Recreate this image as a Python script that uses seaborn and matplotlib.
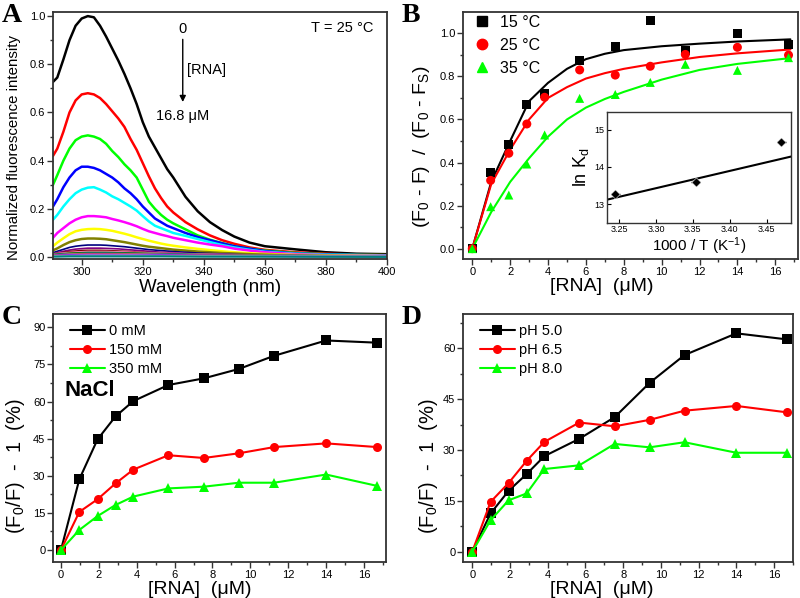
import numpy as np
import pandas as pd
import matplotlib
matplotlib.use("Agg")
import matplotlib.pyplot as plt
import seaborn as sns
from matplotlib.ticker import MultipleLocator, FormatStrFormatter
from matplotlib.lines import Line2D

# ---------------- data ----------------
# Panel A: normalized emission spectra during RNA titration (25 C)
wl = [290.6, 292, 294, 296, 298, 300, 302, 304, 306, 308, 310, 312, 314, 316, 318,
      320, 322, 324, 326, 328, 330, 334, 338, 342, 346, 350, 355, 360, 370, 380, 390, 400]
spec_black = [0.727, 0.745, 0.82, 0.90, 0.96, 0.99, 1.0, 0.995, 0.96, 0.915, 0.865, 0.815, 0.76, 0.70, 0.635,
              0.56, 0.50, 0.455, 0.41, 0.365, 0.33, 0.25, 0.19, 0.145, 0.112, 0.085, 0.06, 0.045, 0.032, 0.02, 0.014, 0.012]
spec_red = [0.42, 0.45, 0.52, 0.60, 0.65, 0.675, 0.68, 0.675, 0.66, 0.635, 0.605, 0.575, 0.54, 0.49, 0.445,
            0.39, 0.335, 0.285, 0.245, 0.21, 0.185, 0.145, 0.115, 0.09, 0.07, 0.055, 0.04, 0.03, 0.02, 0.014, 0.01, 0.008]
spec_green = [0.30, 0.34, 0.40, 0.45, 0.485, 0.50, 0.505, 0.50, 0.49, 0.47, 0.44, 0.415, 0.385, 0.36, 0.33,
              0.28, 0.23, 0.20, 0.175, 0.155, 0.14, 0.115, 0.09, 0.072, 0.058, 0.045, 0.035, 0.027, 0.017, 0.012, 0.01, 0.008]
spec_blue = [0.21, 0.24, 0.29, 0.33, 0.36, 0.375, 0.375, 0.37, 0.36, 0.345, 0.33, 0.31, 0.285, 0.265, 0.24,
             0.21, 0.185, 0.16, 0.145, 0.13, 0.12, 0.10, 0.083, 0.07, 0.057, 0.045, 0.035, 0.025, 0.015, 0.011, 0.009, 0.007]
spec_cyan = [0.155, 0.175, 0.21, 0.24, 0.265, 0.28, 0.288, 0.29, 0.28, 0.268, 0.252, 0.24, 0.225, 0.21, 0.193,
             0.17, 0.148, 0.13, 0.12, 0.11, 0.10, 0.088, 0.075, 0.062, 0.05, 0.04, 0.03, 0.022, 0.014, 0.01, 0.008, 0.006]
spec_magenta = [0.08, 0.10, 0.12, 0.14, 0.155, 0.165, 0.17, 0.17, 0.168, 0.165, 0.158, 0.152, 0.145, 0.137, 0.128,
                0.117, 0.107, 0.10, 0.093, 0.087, 0.08, 0.07, 0.06, 0.052, 0.045, 0.035, 0.027, 0.02, 0.012, 0.008, 0.006, 0.005]
spec_yellow = [0.045, 0.06, 0.078, 0.095, 0.107, 0.113, 0.116, 0.117, 0.116, 0.113, 0.109, 0.103, 0.097, 0.09, 0.082,
               0.075, 0.068, 0.062, 0.056, 0.051, 0.047, 0.04, 0.034, 0.029, 0.024, 0.02, 0.016, 0.013, 0.009, 0.007, 0.005, 0.004]
spec_olive = [0.028, 0.036, 0.05, 0.062, 0.07, 0.075, 0.077, 0.077, 0.076, 0.074, 0.07, 0.066, 0.062, 0.057, 0.052,
              0.047, 0.043, 0.04, 0.037, 0.034, 0.031, 0.027, 0.023, 0.02, 0.017, 0.015, 0.012, 0.01, 0.007, 0.005, 0.004, 0.003]
spec_navy = [0.018, 0.024, 0.032, 0.04, 0.045, 0.048, 0.05, 0.05, 0.05, 0.049, 0.047, 0.045, 0.043, 0.04, 0.037,
             0.034, 0.031, 0.029, 0.027, 0.025, 0.023, 0.02, 0.017, 0.015, 0.013, 0.011, 0.009, 0.008, 0.006, 0.005, 0.004, 0.003]
spec_purple = [0.014, 0.018, 0.024, 0.029, 0.033, 0.035, 0.037, 0.037, 0.037, 0.036, 0.035, 0.034, 0.032, 0.03, 0.028,
               0.026, 0.024, 0.022, 0.02, 0.019, 0.018, 0.015, 0.013, 0.011, 0.01, 0.009, 0.008, 0.007, 0.005, 0.004, 0.003, 0.003]
spec_wine = [0.012, 0.015, 0.019, 0.023, 0.025, 0.027, 0.028, 0.028, 0.028, 0.027, 0.026, 0.025, 0.024, 0.023, 0.021,
             0.02, 0.018, 0.017, 0.016, 0.015, 0.014, 0.012, 0.011, 0.01, 0.009, 0.008, 0.007, 0.006, 0.005, 0.004, 0.003, 0.002]
# weakest spectra read on a coarser wavelength grid
wl_small = [290.6, 296, 302, 308, 316, 326, 340, 360, 400]
spec_pink = [0.012, 0.018, 0.022, 0.022, 0.019, 0.015, 0.011, 0.007, 0.004]
spec_dkgreen = [0.010, 0.015, 0.018, 0.018, 0.016, 0.013, 0.009, 0.006, 0.003]
spec_royal = [0.008, 0.012, 0.014, 0.014, 0.013, 0.011, 0.008, 0.005, 0.003]
spec_orange = [0.007, 0.010, 0.012, 0.012, 0.011, 0.009, 0.007, 0.005, 0.002]
spec_violet = [0.006, 0.008, 0.010, 0.010, 0.009, 0.008, 0.006, 0.004, 0.002]
spec_ltgray = [0.004, 0.005, 0.006, 0.006, 0.006, 0.005, 0.004, 0.003, 0.002]
spec_dkcyan = [0.002, 0.003, 0.003, 0.003, 0.003, 0.003, 0.002, 0.002, 0.001]

# Titration points (uM RNA)
rna = [0, 0.97, 1.93, 2.88, 3.82, 5.67, 7.55, 9.4, 11.25, 14.0, 16.7]

# Panel B: fraction bound
b_15 = [0, 0.353, 0.485, 0.670, 0.721, 0.873, 0.941, 1.060, 0.922, 1.0, 0.947]
b_25 = [0, 0.317, 0.443, 0.579, 0.703, 0.830, 0.806, 0.847, 0.902, 0.935, 0.899]
b_35 = [0, 0.195, 0.249, 0.393, 0.528, 0.698, 0.716, 0.772, 0.856, 0.828, 0.887]
fit_x = [0, 1, 2, 3, 4, 5, 6, 7, 8, 10, 12, 14, 16.8]
fit_15 = [0, 0.31, 0.50, 0.685, 0.77, 0.835, 0.88, 0.905, 0.922, 0.94, 0.952, 0.962, 0.972]
fit_25 = [0, 0.30, 0.46, 0.60, 0.70, 0.75, 0.79, 0.815, 0.835, 0.865, 0.89, 0.907, 0.925]
fit_35 = [0, 0.17, 0.31, 0.42, 0.52, 0.60, 0.655, 0.695, 0.728, 0.785, 0.83, 0.858, 0.885]
b_labels = ["15 \u00b0C", "25 \u00b0C", "35 \u00b0C"]

# Inset: van't Hoff
vh_x = [3.245, 3.354, 3.470]
vh_y = [13.27, 13.59, 14.67]
vh_fit_x = [3.2337, 3.483]
vh_fit_y = [13.12, 14.28]

# Panel C: NaCl
c_0 = [0, 28.6, 44.7, 54.0, 60.2, 66.7, 69.4, 73.2, 78.5, 84.7, 83.8]
c_150 = [0, 15.4, 20.5, 26.9, 32.5, 38.3, 37.2, 39.1, 41.6, 43.1, 41.6]
c_350 = [0, 8.1, 13.7, 18.2, 21.6, 24.9, 25.6, 27.2, 27.2, 30.5, 25.9]
c_labels = ["0 mM", "150 mM", "350 mM"]

# Panel D: pH
d_50 = [0, 11.3, 18.0, 22.9, 28.2, 33.3, 39.7, 49.8, 58.0, 64.4, 62.6]
d_65 = [0, 14.7, 20.3, 26.8, 32.4, 38.1, 37.0, 38.9, 41.6, 43.0, 41.1]
d_80 = [0, 9.3, 15.2, 17.2, 24.4, 25.5, 31.8, 30.8, 32.3, 29.2, 29.2]
d_labels = ["pH 5.0", "pH 6.5", "pH 8.0"]

# ---------------- style ----------------
sns.set_theme(style="ticks")
plt.rcParams['font.family'] = ['Liberation Sans', 'DejaVu Sans']
plt.rcParams['mathtext.default'] = 'regular'
plt.rcParams['axes.linewidth'] = 1.3
plt.rcParams['axes.edgecolor'] = '#333333'
for k in ['text.color', 'axes.labelcolor', 'xtick.color', 'ytick.color']:
    plt.rcParams[k] = 'black'

GREEN = '#00ff00'
tri_cols = ['black', 'red', GREEN]
tri_marks = ['s', 'o', '^']

fig = plt.figure(figsize=(8, 5.98), dpi=100)
axA = fig.add_axes([53/800, 1-259/598, 334/800, 247/598])
axB = fig.add_axes([463/800, 1-259/598, 335/800, 247/598])
axI = fig.add_axes([607/800, 1-222.7/598, 184/800, 110.7/598])
axC = fig.add_axes([53/800, 1-562/598, 333/800, 248/598])
axD = fig.add_axes([463/800, 1-562/598, 330/800, 248/598])


def style_ax(ax, xmaj, xmin, ymaj, ymin, lab=8):
    ax.xaxis.set_major_locator(MultipleLocator(xmaj))
    ax.yaxis.set_major_locator(MultipleLocator(ymaj))
    if xmin:
        ax.xaxis.set_minor_locator(MultipleLocator(xmin))
    if ymin:
        ax.yaxis.set_minor_locator(MultipleLocator(ymin))
    ax.tick_params(which='major', direction='out', length=4, width=1, labelsize=lab, pad=1.5,
                   top=False, right=False, color='#333333')
    ax.tick_params(which='minor', direction='out', length=2.5, width=1,
                   top=False, right=False, color='#333333')
    for s in ax.spines.values():
        s.set_visible(True)


# ---------------- Panel A ----------------
main_specs = [(spec_black, 'black'), (spec_red, 'red'), (spec_green, GREEN), (spec_blue, '#0000ff'),
              (spec_cyan, '#00ffff'), (spec_magenta, '#ff00ff'), (spec_yellow, '#ffff00'),
              (spec_olive, '#808000'), (spec_navy, '#000080'), (spec_purple, '#800080'),
              (spec_wine, '#800000')]
for vals, col in main_specs:
    lw = 1.8 if max(vals) > 0.06 else 1.2
    sns.lineplot(x=wl, y=vals, color=col, lw=lw, ax=axA, estimator=None, sort=False)
small_specs = [(spec_pink, '#ff80c0'), (spec_dkgreen, '#008000'), (spec_royal, '#4169e1'),
               (spec_orange, '#ff8000'), (spec_violet, '#8000ff'), (spec_ltgray, '#c0c0c0'),
               (spec_dkcyan, '#008080')]
for vals, col in small_specs:
    sns.lineplot(x=wl_small, y=vals, color=col, lw=1.6, ax=axA, estimator=None, sort=False)
axA.set_xlim(290.6, 400)
axA.set_ylim(-0.008, 1.017)
style_ax(axA, 20, 10, 0.2, 0.1)
axA.yaxis.set_major_formatter(FormatStrFormatter('%.1f'))
axA.set_xlabel('Wavelength (nm)', fontsize=13.5)
axA.xaxis.set_label_coords(0.47, -0.08)
axA.set_ylabel('Normalized fluorescence intensity', fontsize=10.8)
axA.yaxis.set_label_coords(-0.095, 0.453)
axA.text(0.96, 0.935, 'T = 25 \u00b0C', transform=axA.transAxes, ha='right', va='center', fontsize=10.5)
axA.text(333.1, 0.945, '0', ha='center', va='center', fontsize=10.5)
axA.annotate('', xy=(333.1, 0.632), xytext=(333.1, 0.915),
             arrowprops=dict(arrowstyle='-|>', color='black', lw=1, mutation_scale=9))
axA.text(334.6, 0.776, '[RNA]', ha='left', va='center', fontsize=10.5)
axA.text(333.1, 0.586, '16.8 \u03bcM', ha='center', va='center', fontsize=10.5)

# ---------------- Panel B ----------------
dfB = pd.DataFrame({'rna': rna * 3, 'val': b_15 + b_25 + b_35,
                    'T': [b_labels[0]] * len(rna) + [b_labels[1]] * len(rna) + [b_labels[2]] * len(rna)})
dfFit = pd.DataFrame({'x': fit_x * 3, 'y': fit_15 + fit_25 + fit_35,
                      'T': [b_labels[0]] * len(fit_x) + [b_labels[1]] * len(fit_x) + [b_labels[2]] * len(fit_x)})
sns.lineplot(data=dfFit, x='x', y='y', hue='T', palette=tri_cols, lw=1.5, ax=axB,
             estimator=None, sort=False, legend=False)
sns.scatterplot(data=dfB, x='rna', y='val', hue='T', style='T', markers=tri_marks,
                palette=tri_cols, s=42, edgecolor='none', ax=axB, legend=False, zorder=3)
axB.set_xlim(-0.49, 17.2)
axB.set_ylim(-0.048, 1.099)
style_ax(axB, 2, 1, 0.2, 0.1)
axB.yaxis.set_major_formatter(FormatStrFormatter('%.1f'))
axB.set_xlabel('[RNA]  (\u03bcM)', fontsize=14)
axB.xaxis.set_label_coords(0.415, -0.075)
axB.set_ylabel('(F$_0$ - F)  /  (F$_0$ - F$_S$)', fontsize=14)
axB.yaxis.set_label_coords(-0.093, 0.455)
hB = [Line2D([], [], ls='none', marker=m, color=c, markersize=7.5) for m, c in zip(tri_marks, tri_cols)]
axB.legend(hB, b_labels, loc='upper left', bbox_to_anchor=(0.0, 1.035), frameon=False, fontsize=11.5,
           handlelength=1.0, handletextpad=0.6, labelspacing=0.5, borderaxespad=0.3)

# Inset
sns.lineplot(x=vh_fit_x, y=vh_fit_y, color='black', lw=1.5, ax=axI, estimator=None)
sns.scatterplot(x=vh_x, y=vh_y, color='black', marker='D', s=22, ax=axI, zorder=3)
axI.errorbar(vh_x, vh_y, xerr=0.006, fmt='none', ecolor='black', elinewidth=1, capsize=0)
axI.set_xlim(3.2337, 3.483)
axI.set_ylim(12.5, 15.48)
axI.xaxis.set_major_locator(MultipleLocator(0.05))
axI.yaxis.set_major_locator(MultipleLocator(1))
axI.tick_params(direction='in', length=3, width=0.8, labelsize=6.5, pad=2)
axI.xaxis.set_major_formatter(FormatStrFormatter('%.2f'))
axI.set_xlabel('1000 / T (K$^{-1}$)', fontsize=11, labelpad=1)
axI.set_ylabel('ln K$_d$', fontsize=13, labelpad=2)
for s in axI.spines.values():
    s.set_linewidth(1)

# ---------------- Panel C ----------------
dfC = pd.DataFrame({'rna': rna * 3, 'val': c_0 + c_150 + c_350,
                    'g': [c_labels[0]] * len(rna) + [c_labels[1]] * len(rna) + [c_labels[2]] * len(rna)})
sns.lineplot(data=dfC, x='rna', y='val', hue='g', style='g', markers=tri_marks, dashes=False,
             palette=tri_cols, lw=1.5, markersize=6.5, markeredgewidth=0, ax=axC,
             estimator=None, sort=False, legend=False)
axC.set_xlim(-0.42, 17.16)
axC.set_ylim(-4.85, 95.4)
style_ax(axC, 2, 1, 15, 7.5)
axC.set_xlabel('[RNA]  (\u03bcM)', fontsize=14)
axC.xaxis.set_label_coords(0.441, -0.075)
axC.set_ylabel('(F$_0$/F)  -  1  (%)', fontsize=14.5)
axC.yaxis.set_label_coords(-0.079, 0.385)
hC = [Line2D([], [], color=c, marker=m, lw=1.5, markersize=6.5, markeredgewidth=0)
      for m, c in zip(tri_marks, tri_cols)]
axC.legend(hC, c_labels, loc='upper left', bbox_to_anchor=(0.02, 1.0), frameon=False, fontsize=10.5,
           handlelength=2.4, handletextpad=0.3, labelspacing=0.35, borderaxespad=0.3)
axC.text(65/800, 1 - 391/598, 'NaCl', transform=fig.transFigure, fontsize=16, fontweight='bold',
         ha='left', va='center', color='black')

# ---------------- Panel D ----------------
dfD = pd.DataFrame({'rna': rna * 3, 'val': d_50 + d_65 + d_80,
                    'g': [d_labels[0]] * len(rna) + [d_labels[1]] * len(rna) + [d_labels[2]] * len(rna)})
sns.lineplot(data=dfD, x='rna', y='val', hue='g', style='g', markers=tri_marks, dashes=False,
             palette=tri_cols, lw=1.5, markersize=6.5, markeredgewidth=0, ax=axD,
             estimator=None, sort=False, legend=False)
axD.set_xlim(-0.49, 17.0)
axD.set_ylim(-3.0, 70.1)
style_ax(axD, 2, 1, 15, 7.5)
axD.set_xlabel('[RNA]  (\u03bcM)', fontsize=14)
axD.xaxis.set_label_coords(0.421, -0.075)
axD.set_ylabel('(F$_0$/F)  -  1  (%)', fontsize=14.5)
axD.yaxis.set_label_coords(-0.07, 0.385)
axD.legend(hC, d_labels, loc='upper left', bbox_to_anchor=(0.02, 1.0), frameon=False, fontsize=10.5,
           handlelength=2.4, handletextpad=0.3, labelspacing=0.35, borderaxespad=0.3)

# panel letters
for lab, (px, py) in zip('ABCD', [(2, 15), (402, 15), (2, 317), (402, 317)]):
    fig.text(px/800, 1 - py/598, lab, fontsize=20, fontweight='bold', family='Liberation Serif',
             ha='left', va='center', color='black')

fig.savefig('out.png', dpi=100)
